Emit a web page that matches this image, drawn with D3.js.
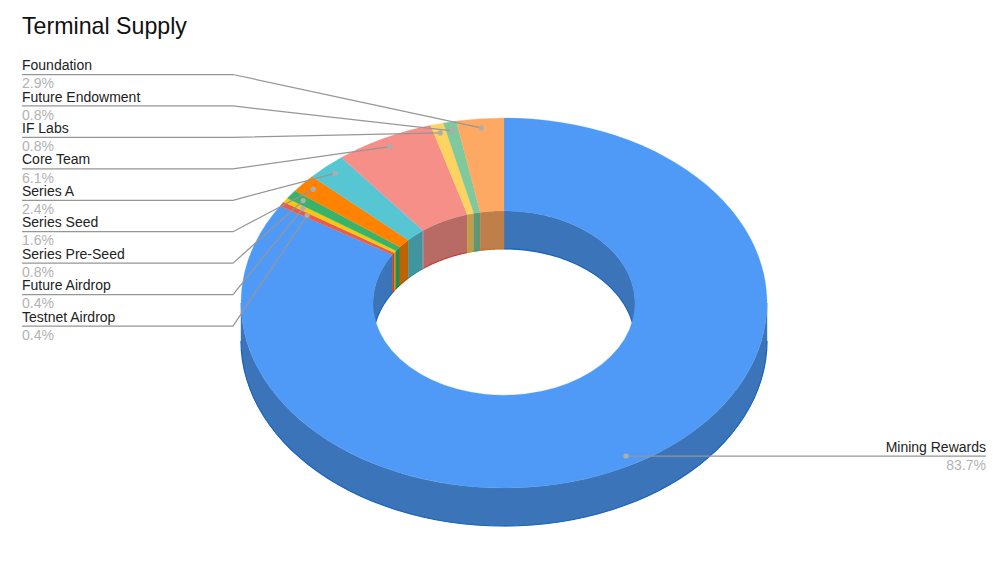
<!DOCTYPE html>
<html>
<head>
<meta charset="utf-8">
<title>Terminal Supply</title>
<script src="https://cdn.jsdelivr.net/npm/d3@7/dist/d3.min.js"></script>
<style>
html,body{margin:0;padding:0;background:#fff;overflow:hidden}
svg{display:block}
text{font-family:"Liberation Sans",Arial,sans-serif}
</style>
</head>
<body>
<svg id="chart" width="1000" height="587"></svg>
<script>
const title = "Terminal Supply";
// clockwise from 12 o'clock
const categories = ["Mining Rewards","Testnet Airdrop","Future Airdrop","Series Pre-Seed","Series Seed","Series A","Core Team","IF Labs","Future Endowment","Foundation"];
const values = [83.7,0.4,0.4,0.8,1.6,2.4,6.1,0.8,0.8,2.9];
const palette = ["#4f9af7","#ea5b4d","#fbc60f","#38b36a","#ff8300","#56c7d2","#f58f87","#ffd35f","#7fc99c","#fda964"];

// layout
const W = 1000, H = 587;
const cx = 504, cy = 303, rx = 263, rxInner = 131, squash = 185 / 263, depth = 38;
const dotRadius = [250,233,242,248,250,250,250,250,250,250];
const labelLeft = 22, labelRight = 986, knee = 233;
const wallShade = 0.75;

const svg = d3.select("#chart");
const pie = d3.pie().sort(null).value(d => d)(values);
const point = (r, a, dy = 0) => [cx + r * Math.sin(a), cy - r * squash * Math.cos(a) + dy];
const shade = c => { const k = d3.rgb(c); return d3.rgb(k.r * wallShade, k.g * wallShade, k.b * wallShade).formatHex(); };
const line = d3.line();

function wallSegments(a0, a1, lo, hi) {
  const s = Math.max(a0, lo), e = Math.min(a1, hi);
  return s < e ? d3.range(0, 61).map(i => s + (e - s) * i / 60) : null;
}
function drawWall(g, r, lo, hi, edge) {
  pie.forEach((p, i) => {
    [[lo, hi], [lo + 2 * Math.PI, hi + 2 * Math.PI], [lo - 2 * Math.PI, hi - 2 * Math.PI]].forEach(([l, h]) => {
      const angles = wallSegments(p.startAngle, p.endAngle, l, h);
      if (!angles) return;
      const upper = angles.map(a => point(r, a));
      const lower = angles.map(a => point(r, a, depth)).reverse();
      g.append("path").attr("d", line(upper.concat(lower)) + "Z")
        .attr("fill", shade(palette[i])).attr("stroke", shade(palette[i])).attr("stroke-width", 0.4);
      g.append("path").attr("d", line(lower)).attr("fill", "none")
        .attr("stroke", edge(palette[i])).attr("stroke-width", 1.1);
    });
  });
}

const edgeColor = c => { const h = d3.hsl(shade(c)); h.s = Math.min(1, h.s * 1.55); h.l *= 0.87; return h.formatHex(); };
const walls = svg.append("g");
drawWall(walls, rx, Math.PI / 2, 3 * Math.PI / 2, edgeColor);
drawWall(walls, rxInner, -Math.PI / 2, Math.PI / 2, edgeColor);

// top face
const arc = d3.arc().innerRadius(rxInner).outerRadius(rx);
svg.append("g")
  .attr("transform", `translate(${cx},${cy}) scale(1,${squash})`)
  .selectAll("path").data(pie).join("path")
  .attr("d", arc)
  .attr("fill", (d, i) => palette[i])
  .attr("stroke", (d, i) => palette[i])
  .attr("stroke-width", 0.3);

// pale seam between Series A and Core Team, on the face and the inner wall
const seam = pie[categories.indexOf("Core Team")].startAngle;
svg.append("path")
  .attr("d", line([point(rx, seam), point(rxInner, seam), point(rxInner, seam, depth)]))
  .attr("fill", "none").attr("stroke", "#a9b4dc").attr("stroke-width", 0.9).attr("opacity", 0.8);

// leaders and labels
const leftRows = categories.slice(1).reverse();
const rowY = d3.scalePoint().domain(leftRows).range([74.5, 326]);
const labels = svg.append("g");

function addLabel(name, pct, x, y, anchor) {
  labels.append("text").attr("x", x).attr("y", y - 4.4).attr("text-anchor", anchor)
    .attr("font-size", 14).attr("fill", "#222").text(name);
  labels.append("text").attr("x", x).attr("y", y + 13.8).attr("text-anchor", anchor)
    .attr("font-size", 14).attr("fill", "#b2b2b2").text(pct.toFixed(1) + "%");
}

pie.forEach((p, i) => {
  const name = categories[i];
  const dot = point(dotRadius[i], (p.startAngle + p.endAngle) / 2);
  const isRight = i === 0;
  const y = isRight ? dot[1] - 0.5 : rowY(name);
  const pts = isRight ? [[dot[0], y], [labelRight, y]] : [[labelLeft, y], [knee, y], dot];
  labels.append("path").attr("d", line(pts)).attr("fill", "none")
    .attr("stroke", "#969696").attr("stroke-width", 1.25);
  labels.append("circle").attr("cx", dot[0]).attr("cy", isRight ? y : dot[1]).attr("r", 2.6).attr("fill", "#adadad");
  addLabel(name, values[i], isRight ? labelRight : labelLeft, y, isRight ? "end" : "start");
});

svg.append("text").attr("x", 22).attr("y", 34).attr("font-size", 23.2).attr("fill", "#111").text(title);
</script>
</body>
</html>
